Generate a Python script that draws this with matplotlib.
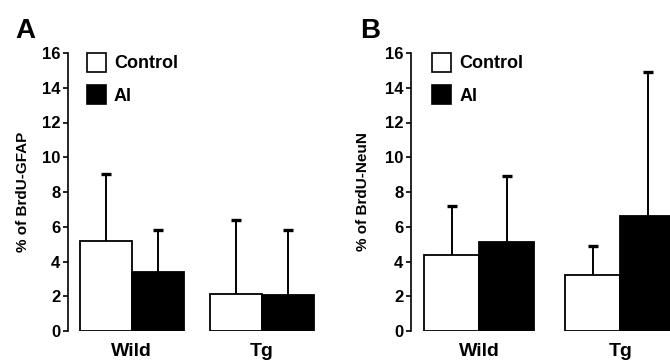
import matplotlib
matplotlib.use('Agg')
import matplotlib.pyplot as plt
from matplotlib.patches import Patch

plt.rcParams['font.family'] = ['Liberation Sans', 'DejaVu Sans']
plt.rcParams['font.weight'] = 'bold'

groups = ['Wild', 'Tg']
series = ['Control', 'Al']

# panel A: % of BrdU-GFAP
a_control = [5.2, 2.13]
a_control_sd = [3.85, 4.23]
a_al = [3.4, 2.06]
a_al_sd = [2.42, 3.76]

# panel B: % of BrdU-NeuN
b_control = [4.37, 3.2]
b_control_sd = [2.85, 1.69]
b_al = [5.1, 6.6]
b_al_sd = [3.83, 8.3]

yticks = [0, 2, 4, 6, 8, 10, 12, 14, 16]

fig = plt.figure(figsize=(6.7, 3.63), dpi=100)


def upper_err(ax, xs, means, sds):
    tops = [m + s for m, s in zip(means, sds)]
    ax.vlines(xs, means, tops, color='black', linewidth=1.4, zorder=1)
    ax.plot(xs, tops, linestyle='none', marker='_', markersize=7,
            markeredgewidth=2.4, color='black', zorder=1)


def panel(rect, control, control_sd, al, al_sd, ylabel, xlim, width, letter, letter_x, label_x):
    ax = fig.add_axes(rect)
    x = range(len(groups))
    xc = [i - width / 2 for i in x]
    xa = [i + width / 2 for i in x]
    ax.bar(xc, control, width, color='white', edgecolor='black', linewidth=1.3, zorder=2)
    ax.bar(xa, al, width, color='black', edgecolor='black', linewidth=1.3, zorder=2)
    upper_err(ax, xc, control, control_sd)
    upper_err(ax, xa, al, al_sd)
    ax.set_ylim(0, 16)
    ax.set_xlim(*xlim)
    ax.set_yticks(yticks)
    ax.set_xticks(list(x))
    ax.set_xticklabels(groups, fontsize=14, fontweight='bold')
    ax.tick_params(axis='x', length=0, pad=8.5)
    ax.tick_params(axis='y', length=3.5, width=1.2, pad=2, labelsize=12)
    for t in ax.get_yticklabels():
        t.set_fontweight('bold')
    for s in ['top', 'right', 'bottom']:
        ax.spines[s].set_visible(False)
    ax.spines['left'].set_linewidth(1.2)
    ax.set_ylabel(ylabel, fontsize=11, fontweight='bold')
    ax.yaxis.set_label_coords(label_x, 0.5)
    handles = [Patch(facecolor='white', edgecolor='black', linewidth=1.2),
               Patch(facecolor='black', edgecolor='black', linewidth=1.2)]
    ax.legend(handles, series, loc='upper left', bbox_to_anchor=(0.075, 1.0),
              frameon=False, prop={'weight': 'bold', 'size': 13},
              handlelength=1.05, handleheight=1.2, handletextpad=0.45,
              labelspacing=0.72, borderpad=0, borderaxespad=0)
    fig.text(letter_x, 1 - 38 / 363, letter, fontsize=20, fontweight='bold',
             va='baseline', ha='left')
    return ax


panel([68 / 670, 32 / 363, 252 / 670, 278 / 363], a_control, a_control_sd, a_al, a_al_sd,
      '% of BrdU-GFAP', (-0.49, 1.45), 0.4, 'A', 15 / 670, -0.15)
panel([411 / 670, 32 / 363, 280 / 670, 278 / 363], b_control, b_control_sd, b_al, b_al_sd,
      '% of BrdU-NeuN', (-0.484, 1.5), 0.39, 'B', 360 / 670, -0.146)

fig.savefig('out.png', dpi=100)
